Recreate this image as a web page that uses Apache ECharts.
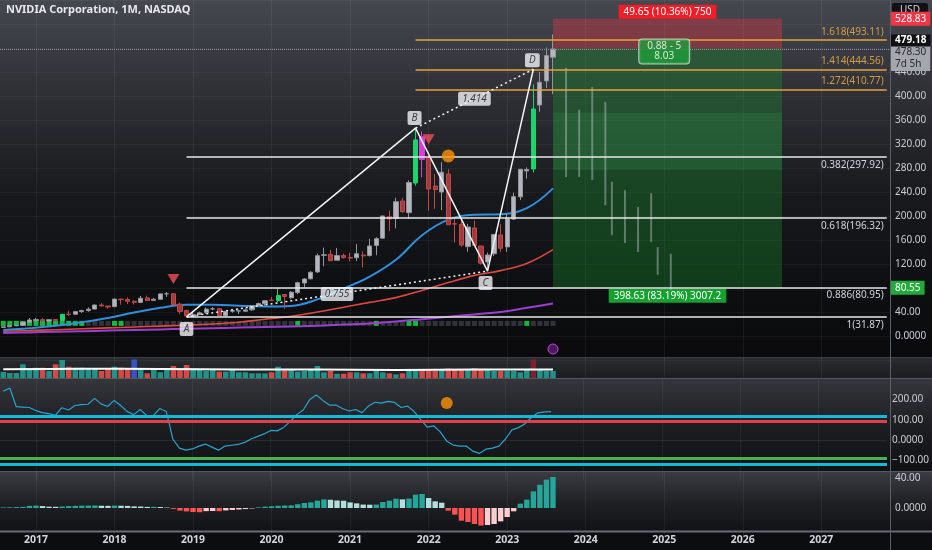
<!DOCTYPE html>
<html>
<head>
<meta charset="utf-8">
<title>NVIDIA Corporation, 1M, NASDAQ</title>
<script src="https://cdn.jsdelivr.net/npm/echarts@6/dist/echarts.min.js"></script>
<style>
html,body{margin:0;padding:0;background:#0b0b0d;overflow:hidden}
#chart{width:932px;height:550px}
</style>
</head>
<body>
<div id="chart"></div>
<script>
// ---------------- data (monthly, Aug 2016 .. Aug 2023) ----------------
const opens = [14.4,15.3,17.2,17.9,23.1,25.8,27.2,25.0,27.3,26.0,36.2,36.3,40.8,42.4,44.8,51.8,49.9,48.9,61.3,60.8,57.8,56.0,63.5,59.4,61.2,70.3,70.4,53.1,42.3,32.7,36.0,38.9,45.1,45.5,33.9,41.4,41.8,41.3,43.6,50.6,53.9,59.7,58.9,69.1,63.7,72.3,88.3,95.3,106.8,134.5,136.2,126.3,134.3,131.0,130.4,135.0,134.0,151.0,163.0,199.0,196.0,225.0,205.5,255.0,332.0,298.2,250.0,240.0,270.0,187.0,186.0,149.0,180.0,150.0,123.5,137.0,168.5,148.5,194.8,231.9,275.1,278.4,384.9,425.2,464.6];
const highs = [15.9,17.4,18.0,23.7,30.0,30.2,29.7,27.7,27.5,36.8,42.1,41.9,43.7,47.8,52.0,54.8,50.4,62.5,62.8,64.4,59.5,66.7,67.3,63.6,70.6,73.2,71.8,55.8,44.0,40.2,40.7,47.8,48.0,46.0,41.5,45.0,44.0,46.0,50.8,55.4,60.0,64.9,79.1,69.8,75.0,90.7,96.5,107.8,137.4,147.3,143.7,146.8,137.5,138.9,153.1,141.0,162.0,164.7,200.5,208.8,230.4,229.8,259.5,346.5,341.0,307.1,270.0,289.5,278.0,198.0,196.0,186.9,192.7,150.5,139.0,169.8,187.0,204.1,238.9,278.3,281.1,419.4,439.9,480.9,502.7];
const lows = [14.2,15.1,16.0,16.7,22.1,24.3,23.8,23.8,24.0,25.2,33.6,35.3,38.4,40.4,44.5,48.8,45.3,48.3,52.2,53.2,52.5,55.0,58.5,58.5,60.8,65.1,49.1,36.2,31.87,32.0,35.0,37.1,43.1,33.2,33.7,38.8,36.6,40.9,42.0,49.8,50.6,58.3,56.3,45.2,61.6,69.8,81.3,94.5,105.0,116.2,125.3,126.3,128.8,124.6,125.0,114.5,132.5,134.6,162.5,174.9,179.4,205.3,195.4,250.5,264.6,208.9,212.0,210.0,185.1,155.7,148.5,140.5,149.5,119.2,108.1,133.4,140.3,140.3,193.5,226.6,262.2,272.4,373.6,413.5,403.1];
const closes = [15.3,17.1,17.8,23.1,26.7,27.3,25.4,27.2,26.1,36.1,36.1,40.6,42.3,44.7,51.7,50.2,48.4,61.5,60.5,57.9,56.2,63.0,59.2,61.2,70.2,70.3,52.7,40.9,33.4,35.9,38.6,44.9,45.2,33.9,41.1,42.2,41.9,43.5,50.3,54.2,58.8,59.1,67.6,65.9,73.1,88.8,95.0,106.2,133.8,135.3,125.4,134.0,130.6,129.9,137.1,133.5,150.1,162.2,200.0,195.0,223.9,207.2,255.7,326.8,294.1,244.9,243.9,272.9,185.5,186.7,151.6,181.6,150.9,121.4,135.0,169.2,146.1,195.4,232.2,277.8,277.5,378.3,423.0,467.3,478.3];
const volumes = [6,5,5,13.7,9,10.3,10.3,7,13.7,18,11.3,10.3,10.3,9,9,7,9,11.3,10.3,9.7,18.5,9,4.7,9,5.7,8,12,9,13,9,9,7,8,6.3,6.3,8,5.7,5.7,4.7,4.7,4.7,5.7,11.3,8,8,6.3,7,8,12,5.7,7,4.3,4.3,5.7,5.7,4.7,4.7,7,5.7,4.7,3.7,4.7,8,8,8,8,7,8,9.7,9,8,9,9.7,8,8,7,7,7,7,5.7,8,18.5,8,7,7];
const volMAIdx = [0,12,24,36,48,60,72,84];
const volMA = [8.7,9.2,9.0,8.6,8.4,8.0,8.5,8.6];
const maIdx = [0,4,8,12,16,20,24,28,32,36,40,44,48,52,56,60,64,68,72,76,80,84];
const maBlue = [10,13,17,23,30,39,47,52,52,50.5,49,50,61,79,99,127,168,194,202,203,213,246];
const maRed = [8,9,10.5,12,13.5,15,16.5,18,20,23,28,33,40,48,56,64,76,89,101,109,121,144];
const maPurple = [5,6,7,8,9,10,11,12,13,14,15,16,17,19,21,24,28,32,36,40,47,54];
const squeezeOn = [1,1,1,1,1,1,1,1,1,1,1,1,1,0,0,0,0,1,1,0,0,0,0,0,0,0,0,0,0,0,0,0,0,0,0,0,0,0,0,0,0,0,0,0,0,1,0,0,0,0,0,0,0,0,0,0,0,1,0,0,0,0,1,1,0,0,0,0,0,0,0,0,0,0,0,0,0,0,0,0,1,0,0,0,0];
const cci = [240,256,164,162,160,145,135,130,122,159,148,170,174,176,205,178,165,195,170,140,125,150,120,120,155,140,5,-40,-50,-44,-30,-20,-35,-50,-30,-26,-22,-12,5,18,30,47,45,62,92,125,148,200,222,195,172,172,155,143,150,135,167,186,182,190,185,160,167,140,100,63,70,40,-6,-25,-30,-30,-55,-66,-45,-40,-30,5,50,61,80,112,134,139,140];
const cciLevels = [115, 90, -92, -117];
const histogram = [0.8,1.0,1.2,1.5,2.8,3.2,2.6,1.8,1.6,2.0,2.6,2.9,3.1,3.2,3.4,3.0,2.9,3.2,3.0,2.8,2.2,2.0,1.5,1.6,1.3,0.6,-1.2,-3.5,-4.6,-5.4,-5.6,-4.2,-4.0,-4.3,-3.2,-2.6,-2.0,-1.4,-0.6,0.9,1.8,2.4,3.0,3.3,3.5,5.0,6.7,7.5,9.8,11.5,11.0,10.0,9.7,7.5,6.2,4.6,4.4,4.6,8.0,9.8,12.4,11.5,12.6,17.8,18.7,13.3,8.9,7.1,-3.6,-8.9,-16.9,-18.7,-21.3,-23.4,-22.7,-21.3,-17.8,-12.0,-4.4,5.8,11.1,22.2,31.0,37.8,41.3];
const fibRatios = ['1.618','1.414','1.272','0.382','0.618','0.886','1'];
const fibPrices = [493.11,444.56,410.77,297.92,196.32,80.95,31.87];
const patternIdx = [28,63,74,81];
const patternVal = [31.87,346.47,108.13,444.56];
const patternNames = ['A','B','C','D'];
const ghostIdx = [86,88,90,92,93,95,97,99,100,102];
const ghostHigh = [447,377,415,390,257,243,215,238,148,137];
const ghostLow = [265,265,260,218,168,155,140,157,102,77];
const entryPrice = 479.18, stopPrice = 528.83, targetPrice = 80.55, lastPrice = 478.30;
const zoneStart = 84, zoneEnd = 119, bandLow = 277, bandHigh = 372;
const signalDown = [[26, 95], [65, 328]];
const signalDot = [68, 300];
const cciDot = [68, 182];

// ---------------- categories ----------------
const cats = [];
for (let i = 0; i < 136; i++) { const t = 2016 * 12 + 7 + i; cats.push(Math.floor(t / 12) + '-' + String(t % 12 + 1).padStart(2, '0')); }
const isJan = (i, v) => typeof v === 'string' && v.endsWith('-01');

// ---------------- styles ----------------
const FONT = "'Noto Sans', 'DejaVu Sans', sans-serif";
const UP = '#b3b6bc', UPB = '#92959c', DN = '#a23a3e', DNB = '#c0494b';
const CLEAR = 'rgba(0,0,0,0)';
const special = {9: '#1fd36c', 42: '#1fd36c', 63: '#1fd36c', 64: '#d63fd8', 81: '#1fd36c'};

const candleData = opens.map((o, i) => {
  const it = { value: [o, closes[i], lows[i], highs[i]] };
  if (special[i]) it.itemStyle = { color: special[i], color0: special[i], borderColor: special[i], borderColor0: special[i] };
  return it;
});
const volData = volumes.map((v, i) => {
  let c = closes[i] >= opens[i] ? 'rgba(38,166,154,0.85)' : 'rgba(239,83,80,0.85)';
  if (i === 20) c = '#3554c8';
  if (i === 81) c = '#7a2233';
  return { value: v, itemStyle: { color: c } };
});
const histData = histogram.map((v, i) => {
  const p = i ? histogram[i - 1] : 0;
  let c;
  if (v >= 0) c = v >= p ? '#26a69a' : '#b2dfdb'; else c = v <= p ? '#ff5252' : '#ffcdd2';
  return { value: v, itemStyle: { color: c } };
});
const sqData = squeezeOn.map((s, i) => ({ value: [i, 21], itemStyle: { color: s ? '#17e34a' : '#3a3d44' } }));

const fibLines = fibPrices.map((p, i) => {
  const orange = parseFloat(fibRatios[i]) > 1;
  const start = orange ? patternIdx[1] : patternIdx[0];
  return [{
    coord: [cats[start], p],
    lineStyle: { color: orange ? '#e9a33b' : '#e6e7ea', width: orange ? 1.5 : 1.6, type: 'solid' },
    label: { show: true, position: orange ? 'insideEndTop' : 'insideEndBottom', formatter: fibRatios[i] + '(' + p.toFixed(2) + ')',
      color: orange ? '#d39b45' : '#d1d4dc', fontSize: 10, fontFamily: FONT, distance: 3 }
  }, { coord: [cats[135], p] }];
});
const tag = (v, text, bg, fg, extra) => ({
  yAxis: v, lineStyle: { color: CLEAR, width: 0 },
  label: Object.assign({ show: true, position: 'end', distance: 1, formatter: text, backgroundColor: bg, color: fg, fontSize: 10, fontFamily: FONT, padding: [2, 4] }, extra || {})
});
const lastTag = tag(lastPrice, lastPrice.toFixed(2) + '\n7d 5h', '#a4a7ae', '#2a2c30', { offset: [0, 9], lineHeight: 12, padding: [1, 4] });
lastTag.lineStyle = { type: 'dotted', color: '#8a8d96', width: 1 };
const priceTags = [
  tag(stopPrice, stopPrice.toFixed(2), '#f23645', '#ffffff'),
  lastTag,
  tag(entryPrice, entryPrice.toFixed(2), '#0f1013', '#ffffff', { offset: [0, -8], fontWeight: 'bold', padding: [1, 4] }),
  tag(targetPrice, targetPrice.toFixed(2), '#22ab3a', '#ffffff')
];

const labelBox = { show: true, backgroundColor: '#f3f4f7', color: '#131722', borderRadius: 2, padding: [2, 4], fontSize: 10, fontStyle: 'italic', fontFamily: FONT };
const patLabelOffsets = [[0, 12], [-1, -10], [-2, 12], [-1, -9]];
const patLabelData = patternIdx.map((k, i) => ({ value: [k, patternVal[i]], name: patternNames[i], label: Object.assign({}, labelBox, { formatter: patternNames[i], offset: patLabelOffsets[i] }) }));
const mid = (a, b) => [(patternIdx[a] + patternIdx[b]) / 2, (patternVal[a] + patternVal[b]) / 2];
patLabelData.push({ value: mid(0, 2), label: Object.assign({}, labelBox, { formatter: '0.755' }) });
patLabelData.push({ value: mid(1, 3), label: Object.assign({}, labelBox, { formatter: '1.414' }) });

const gridX = { left: -1, width: 891 };
const xCommon = (gi, showLabels) => ({
  type: 'category', gridIndex: gi, data: cats, boundaryGap: true,
  axisLine: { show: false }, axisTick: { show: false, alignWithLabel: true },
  axisLabel: showLabels ? { show: true, interval: isJan, formatter: v => v.slice(0, 4), color: '#d1d4dc', fontWeight: 'bold', fontSize: 10.5, margin: 2, fontFamily: FONT } : { show: false },
  splitLine: showLabels ? { show: false } : { show: true, interval: isJan, alignWithLabel: true, lineStyle: { color: 'rgba(255,255,255,0.055)', width: 1 } }
});
const yLabel = f => ({ color: '#c9ccd2', fontSize: 10, margin: 5, fontFamily: FONT, formatter: f });

const grad = (stops) => ({ type: 'linear', x: 0, y: 0, x2: 0, y2: 1, colorStops: stops.map(s => ({ offset: s[0], color: s[1] })) });

const option = {
  animation: false,
  backgroundColor: '#0b0b0d',
  textStyle: { fontFamily: FONT },
  graphic: [
    { type: 'rect', z: -10, shape: { x: 0, y: 0, width: 932, height: 358 }, style: { fill: grad([[0, '#45484f'], [0.25, '#2f3137'], [0.55, '#18191c'], [0.8, '#0e0f11'], [1, '#0a0a0c']]) } },
    { type: 'rect', z: -10, shape: { x: 0, y: 358, width: 932, height: 21 }, style: { fill: grad([[0, '#2a2c31'], [1, '#1b1c1f']]) } },
    { type: 'rect', z: -10, shape: { x: 0, y: 379, width: 932, height: 93 }, style: { fill: grad([[0, '#34363b'], [0.5, '#1d1e22'], [1, '#101113']]) } },
    { type: 'rect', z: -10, shape: { x: 0, y: 472, width: 932, height: 60 }, style: { fill: grad([[0, '#3a3c42'], [0.5, '#202125'], [1, '#111214']]) } },
    { type: 'rect', z: -10, shape: { x: 0, y: 532, width: 932, height: 18 }, style: { fill: '#0c0d0f' } },
    { type: 'line', z: 100, shape: { x1: 0, y1: 357.5, x2: 932, y2: 357.5 }, style: { stroke: '#3d4048', lineWidth: 1 } },
    { type: 'line', z: 100, shape: { x1: 0, y1: 378.5, x2: 932, y2: 378.5 }, style: { stroke: '#55585f', lineWidth: 1 } },
    { type: 'line', z: 100, shape: { x1: 0, y1: 471.5, x2: 932, y2: 471.5 }, style: { stroke: '#55585f', lineWidth: 1 } },
    { type: 'line', z: 100, shape: { x1: 0, y1: 531.5, x2: 932, y2: 531.5 }, style: { stroke: '#6a6d75', lineWidth: 2 } },
    { type: 'line', z: 100, shape: { x1: 890.5, y1: 0, x2: 890.5, y2: 550 }, style: { stroke: '#5c5f67', lineWidth: 1 } },
    { type: 'text', z: 100, left: 6, top: 4, style: { text: 'NVIDIA Corporation, 1M, NASDAQ', fill: '#e6e8ee', font: 'bold 11px ' + FONT } },
    { type: 'group', z: 110, left: 892, top: 3, children: [
      { type: 'rect', shape: { x: 0, y: 0, width: 36, height: 15, r: 2 }, style: { fill: '#101114' } },
      { type: 'text', left: 8, top: 2, style: { text: 'USD', fill: '#d1d4dc', font: '10px ' + FONT } }
    ] },
    { type: 'circle', z: 100, shape: { cx: 553, cy: 349, r: 5 }, style: { fill: '#4a1a5e', stroke: '#c04ad8', lineWidth: 1 } }
  ],
  grid: [
    Object.assign({ top: 0, height: 360 }, gridX),
    Object.assign({ top: 358, height: 20 }, gridX),
    Object.assign({ top: 379.1, height: 101.5 }, gridX),
    Object.assign({ top: 472, height: 66 }, gridX),
    Object.assign({ top: 532, height: 1 }, gridX)
  ],
  xAxis: [xCommon(0, false), xCommon(1, false), xCommon(2, false), xCommon(3, false), xCommon(4, true)],
  yAxis: [
    { gridIndex: 0, type: 'value', position: 'right', min: -40, max: 560, interval: 40,
      axisLine: { show: false }, axisTick: { show: false },
      splitLine: { show: true, lineStyle: { color: 'rgba(255,255,255,0.045)' } },
      axisLabel: yLabel(v => (v < 0 || v === 80 || v >= 480) ? '' : (v === 0 ? '0.0000' : v.toFixed(2))) },
    { gridIndex: 1, type: 'value', min: 0, max: 20, show: false },
    { gridIndex: 2, type: 'value', position: 'right', min: -200, max: 300, interval: 100,
      axisLine: { show: false }, axisTick: { show: false }, splitLine: { show: false },
      axisLabel: yLabel(v => v === 0 ? '0.0000' : (v === 100 || v === 200) ? v.toFixed(2) : v === -100 ? '\u2212100.00' : '') },
    { gridIndex: 3, type: 'value', position: 'right', min: -40, max: 48, interval: 40,
      axisLine: { show: false }, axisTick: { show: false }, splitLine: { show: false },
      axisLabel: yLabel(v => v === 0 ? '0.0000' : v === 40 ? '40.00' : '') },
    { gridIndex: 4, type: 'value', show: false }
  ],
  series: [
    { name: 'squeeze', type: 'scatter', xAxisIndex: 0, yAxisIndex: 0, symbol: 'rect', symbolSize: [5, 5], data: sqData, z: 1, silent: true },
    { name: 'MA purple', type: 'line', xAxisIndex: 0, yAxisIndex: 0, data: maIdx.map((k, i) => [k, maPurple[i]]), smooth: 0.4, showSymbol: false, lineStyle: { color: '#9c3fd0', width: 2 }, z: 2 },
    { name: 'MA red', type: 'line', xAxisIndex: 0, yAxisIndex: 0, data: maIdx.map((k, i) => [k, maRed[i]]), smooth: 0.4, showSymbol: false, lineStyle: { color: '#e0483e', width: 1.6 }, z: 2 },
    { name: 'MA blue', type: 'line', xAxisIndex: 0, yAxisIndex: 0, data: maIdx.map((k, i) => [k, maBlue[i]]), smooth: 0.4, showSymbol: false, lineStyle: { color: '#2f8fe0', width: 2 }, z: 2 },
    { name: 'NVDA', type: 'candlestick', xAxisIndex: 0, yAxisIndex: 0, data: candleData, barWidth: '72%', z: 3,
      itemStyle: { color: UP, color0: DN, borderColor: UPB, borderColor0: DNB, borderWidth: 1 },
      markArea: { silent: true, data: [
        [{ coord: [cats[zoneStart], entryPrice], itemStyle: { color: 'rgba(242,54,69,0.36)' },
           label: { show: true, position: 'top', distance: 0, formatter: (stopPrice - entryPrice).toFixed(2) + ' (10.36%) 750', backgroundColor: '#f21d26', color: '#ffffff', fontSize: 10, padding: [2, 5], fontFamily: FONT } },
         { coord: [cats[zoneEnd], stopPrice] }],
        [{ coord: [cats[zoneStart], targetPrice], itemStyle: { color: 'rgba(24,150,48,0.34)' },
           label: { show: true, position: 'bottom', distance: 1, formatter: (entryPrice - targetPrice).toFixed(2) + ' (83.19%) 3007.2', backgroundColor: '#14a12f', color: '#ffffff', fontSize: 10, padding: [2, 5], fontFamily: FONT } },
         { coord: [cats[zoneEnd], entryPrice] }],
        [{ coord: [cats[zoneStart], bandLow], itemStyle: { color: 'rgba(70,180,100,0.16)' } }, { coord: [cats[zoneEnd], bandHigh] }]
      ] },
      markLine: { silent: true, symbol: ['none', 'none'], animation: false, data: fibLines.concat(priceTags) }
    },
    { name: 'projection', type: 'custom', xAxisIndex: 0, yAxisIndex: 0, z: 4, silent: true,
      data: ghostIdx.map((k, i) => [k, ghostLow[i], ghostHigh[i]]),
      encode: { x: 0, y: [1, 2] },
      renderItem: (params, api) => {
        const x = api.value(0), p1 = api.coord([x, api.value(2)]), p2 = api.coord([x, api.value(1)]);
        return { type: 'rect', shape: { x: p1[0] - 1, y: p1[1], width: 2, height: p2[1] - p1[1] }, style: { fill: 'rgba(200,205,212,0.42)' } };
      } },
    { name: 'pattern', type: 'line', xAxisIndex: 0, yAxisIndex: 0, z: 5, data: patternIdx.map((k, i) => [k, patternVal[i]]), showSymbol: false, lineStyle: { color: '#f2f3f5', width: 1.5 } },
    { name: 'AC', type: 'line', xAxisIndex: 0, yAxisIndex: 0, z: 5, data: [[patternIdx[0], patternVal[0]], [patternIdx[2], patternVal[2]]], showSymbol: false, lineStyle: { color: '#f2f3f5', width: 1.5, type: [2, 3] } },
    { name: 'BD', type: 'line', xAxisIndex: 0, yAxisIndex: 0, z: 5, data: [[patternIdx[1], patternVal[1]], [patternIdx[3], patternVal[3]]], showSymbol: false, lineStyle: { color: '#f2f3f5', width: 1.5, type: [2, 3] } },
    { name: 'signals', type: 'scatter', xAxisIndex: 0, yAxisIndex: 0, z: 6, symbol: 'triangle', symbolRotate: 180, symbolSize: [12, 10], itemStyle: { color: '#f0505a' }, data: signalDown },
    { name: 'dot', type: 'scatter', xAxisIndex: 0, yAxisIndex: 0, z: 6, symbolSize: 13, itemStyle: { color: '#ff9100' }, data: [signalDot] },
    { name: 'labels', type: 'scatter', xAxisIndex: 0, yAxisIndex: 0, z: 7, symbolSize: 1, itemStyle: { color: CLEAR }, data: patLabelData },
    { name: 'rr', type: 'scatter', xAxisIndex: 0, yAxisIndex: 0, z: 7, symbolSize: 1, itemStyle: { color: CLEAR },
      data: [{ value: [Math.round((zoneStart + zoneEnd) / 2) - 1, entryPrice], label: { show: true, position: 'inside', offset: [0, 3], formatter: '0.88 - 5\n8.03', backgroundColor: '#1f9d3a', borderColor: '#dfe3e0', borderWidth: 1, borderRadius: 3, color: '#ffffff', fontSize: 10, lineHeight: 10, padding: [2, 8], fontFamily: FONT } }] },
    { name: 'Volume', type: 'bar', xAxisIndex: 1, yAxisIndex: 1, data: volData, barWidth: '85%', z: 2 },
    { name: 'Vol MA', type: 'line', xAxisIndex: 1, yAxisIndex: 1, data: volMAIdx.map((k, i) => [k, volMA[i]]), smooth: 0.3, showSymbol: false, symbol: 'none', clip: false, lineStyle: { color: '#ffffff', width: 2 }, z: 8 },
    { name: 'CCI', type: 'line', xAxisIndex: 2, yAxisIndex: 2, data: cci, showSymbol: false, lineStyle: { color: '#2aa3cf', width: 1.2 },
      markLine: { silent: true, symbol: ['none', 'none'], label: { show: false }, data: [
        { yAxis: 0, lineStyle: { color: 'rgba(255,255,255,0.08)', width: 1, type: 'solid' } }
      ].concat(cciLevels.map((v, i) => ({ yAxis: v, lineStyle: { color: ['#12bcd6', '#e0404c', '#4caf50', '#12bcd6'][i], width: 3, type: 'solid' } }))) } },
    { name: 'CCI dot', type: 'scatter', xAxisIndex: 2, yAxisIndex: 2, symbolSize: 12, itemStyle: { color: '#ff9100' }, data: [cciDot], z: 6 },
    { name: 'Histogram', type: 'bar', xAxisIndex: 3, yAxisIndex: 3, data: histData, barWidth: '82%' }
  ]
};
const chart = echarts.init(document.getElementById('chart'), null, { renderer: 'canvas' });
chart.setOption(option);
</script>
</body>
</html>
